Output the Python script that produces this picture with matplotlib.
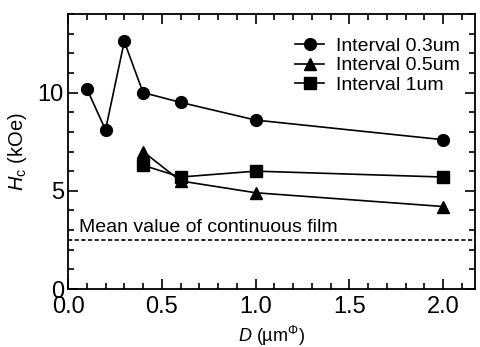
import matplotlib
matplotlib.use('Agg')
import matplotlib.pyplot as plt

plt.rcParams['font.family'] = ['Liberation Sans', 'DejaVu Sans']
plt.rcParams['mathtext.fontset'] = 'custom'
plt.rcParams['mathtext.rm'] = 'Liberation Sans'
plt.rcParams['mathtext.it'] = 'Liberation Sans:italic'

# data
x_03 = [0.1, 0.2, 0.3, 0.4, 0.6, 1.0, 2.0]
y_03 = [10.2, 8.1, 12.6, 10.0, 9.5, 8.6, 7.6]
x_05 = [0.4, 0.6, 1.0, 2.0]
y_05 = [7.0, 5.5, 4.9, 4.2]
x_1 = [0.4, 0.6, 1.0, 2.0]
y_1 = [6.3, 5.7, 6.0, 5.7]
film_mean = 2.5

fig = plt.figure(figsize=(4.81, 3.47), dpi=100)
ax = fig.add_axes([0.1414, 0.1671, 0.9875 - 0.1414, 0.9597 - 0.1671])

ax.plot(x_03, y_03, marker='o', color='black', lw=1.2, markersize=8.5, label='Interval 0.3um')
ax.plot(x_05, y_05, marker='^', color='black', lw=1.2, markersize=9, label='Interval 0.5um')
ax.plot(x_1, y_1, marker='s', color='black', lw=1.2, markersize=8, label='Interval 1um')
ax.axhline(film_mean, color='black', lw=1.2, ls=(0, (2.5, 1.5)))
ax.text(0.06, film_mean + 0.4, 'Mean value of continuous film', fontsize=14)

ax.set_xlim(0, 2.17)
ax.set_ylim(0, 14)
ax.set_xticks([0.0, 0.5, 1.0, 1.5, 2.0])
ax.set_xticklabels(['0.0', '0.5', '1.0', '1.5', '2.0'])
ax.set_xticks([i / 10 for i in range(22)], minor=True)
ax.set_yticks([0, 5, 10])
ax.set_yticks(range(15), minor=True)
ax.tick_params(which='both', direction='in', top=True, right=True, width=1.2)
ax.tick_params(which='major', length=7, labelsize=17)
ax.tick_params(axis='x', which='major', pad=5)
ax.tick_params(axis='y', which='major', pad=3)
ax.tick_params(which='minor', length=4)
for s in ax.spines.values():
    s.set_linewidth(1.3)

ax.set_xlabel(r'$D$ (µm$^{\mathrm{\Phi}}$)', fontsize=13, labelpad=4)
ax.set_ylabel(r'$H_{\mathrm{c}}$ (kOe)', fontsize=14.5, labelpad=6)

leg = ax.legend(loc='upper right', bbox_to_anchor=(1.02, 1.0), fontsize=14, frameon=False,
                handlelength=1.5, handletextpad=0.6, labelspacing=0.1, borderaxespad=0.8)

fig.savefig('out.png', dpi=100)
